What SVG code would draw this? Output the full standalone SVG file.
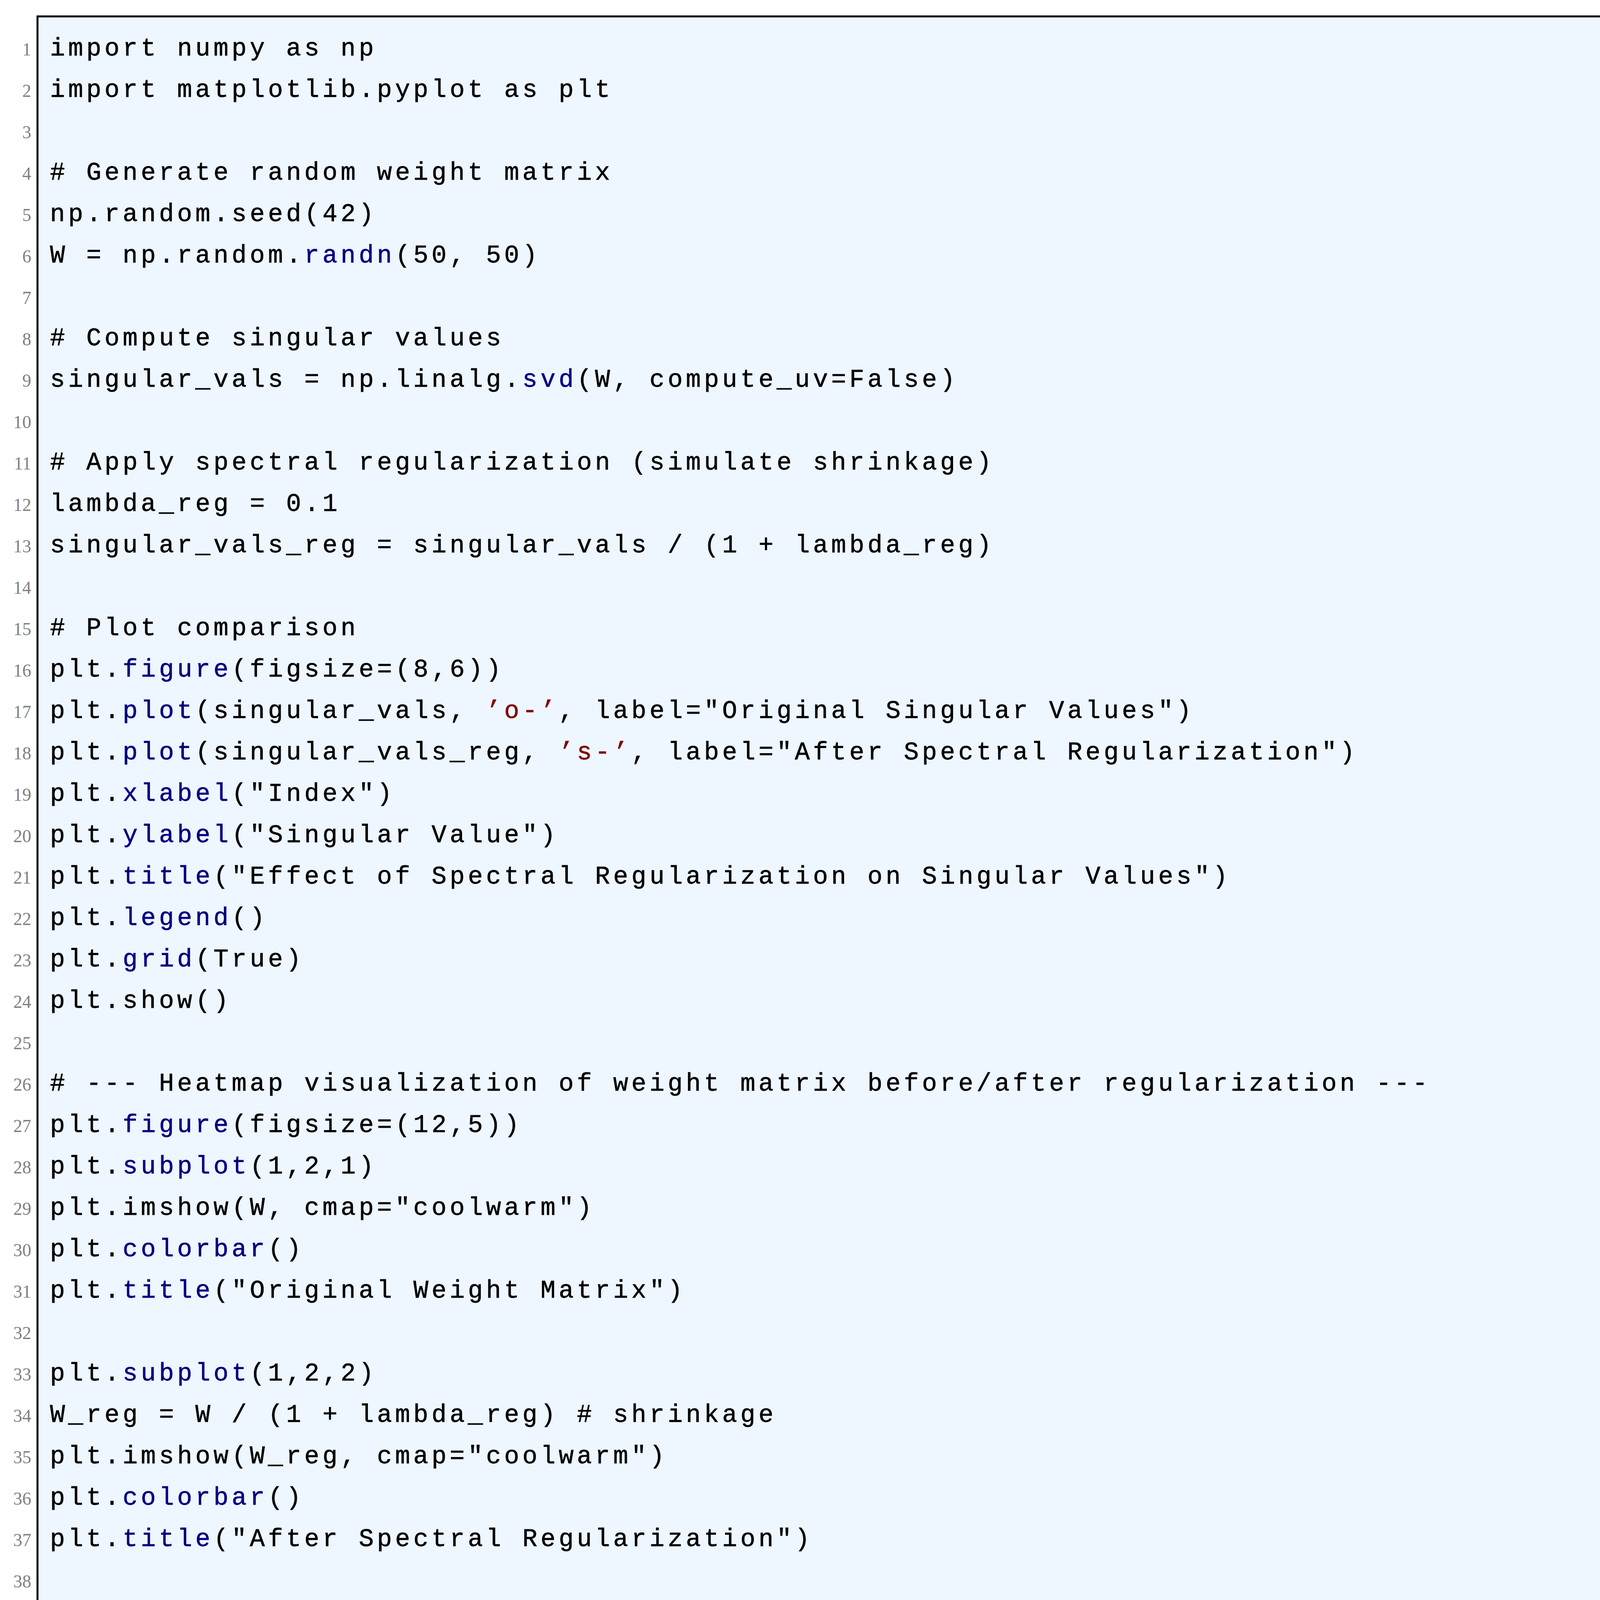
<svg xmlns="http://www.w3.org/2000/svg" width="4371" height="4386" viewBox="0 0 4371 4386">
<style>
.c{font-family:"Liberation Mono",monospace;font-size:64px;letter-spacing:8.1px;fill:#000;stroke:#000;stroke-width:0.8px}
.n{font-family:"Liberation Serif",serif;font-size:46px;fill:#808080;text-anchor:end}
.k{fill:#000080;stroke:#000080}
.s{fill:#800000;stroke:#800000}
</style>
<rect id="frame" x="96" y="42" width="4232" height="4310" fill="#EEF6FF" stroke="#000" stroke-width="5"/>
<g id="linenumbers">
<text class="n" x="80" y="142">1</text><text class="n" x="80" y="248">2</text><text class="n" x="80" y="354">3</text><text class="n" x="80" y="460">4</text><text class="n" x="80" y="566">5</text><text class="n" x="80" y="672">6</text><text class="n" x="80" y="778">7</text><text class="n" x="80" y="884">8</text><text class="n" x="80" y="990">9</text><text class="n" x="80" y="1096">10</text>
<text class="n" x="80" y="1202">11</text><text class="n" x="80" y="1308">12</text><text class="n" x="80" y="1414">13</text><text class="n" x="80" y="1520">14</text><text class="n" x="80" y="1626">15</text><text class="n" x="80" y="1732">16</text><text class="n" x="80" y="1838">17</text><text class="n" x="80" y="1944">18</text><text class="n" x="80" y="2050">19</text><text class="n" x="80" y="2156">20</text>
<text class="n" x="80" y="2262">21</text><text class="n" x="80" y="2368">22</text><text class="n" x="80" y="2474">23</text><text class="n" x="80" y="2580">24</text><text class="n" x="80" y="2686">25</text><text class="n" x="80" y="2792">26</text><text class="n" x="80" y="2898">27</text><text class="n" x="80" y="3004">28</text><text class="n" x="80" y="3110">29</text><text class="n" x="80" y="3216">30</text>
<text class="n" x="80" y="3322">31</text><text class="n" x="80" y="3428">32</text><text class="n" x="80" y="3534">33</text><text class="n" x="80" y="3640">34</text><text class="n" x="80" y="3746">35</text><text class="n" x="80" y="3852">36</text><text class="n" x="80" y="3958">37</text><text class="n" x="80" y="4064">38</text><text class="n" x="80" y="4170">39</text><text class="n" x="80" y="4276">40</text>
</g>
<g id="code" xml:space="preserve">
<text class="c" x="128" y="142">import numpy as np</text>
<text class="c" x="128" y="248">import matplotlib.pyplot as plt</text>
<text class="c" x="128" y="460"># Generate random weight matrix</text>
<text class="c" x="128" y="566">np.random.seed(42)</text>
<text class="c" x="128" y="672">W = np.random.<tspan class="k">randn</tspan>(50, 50)</text>
<text class="c" x="128" y="884"># Compute singular values</text>
<text class="c" x="128" y="990">singular_vals = np.linalg.<tspan class="k">svd</tspan>(W, compute_uv=False)</text>
<text class="c" x="128" y="1202"># Apply spectral regularization (simulate shrinkage)</text>
<text class="c" x="128" y="1308">lambda_reg = 0.1</text>
<text class="c" x="128" y="1414">singular_vals_reg = singular_vals / (1 + lambda_reg)</text>
<text class="c" x="128" y="1626"># Plot comparison</text>
<text class="c" x="128" y="1732">plt.<tspan class="k">figure</tspan>(figsize=(8,6))</text>
<text class="c" x="128" y="1838">plt.<tspan class="k">plot</tspan>(singular_vals, <tspan class="s">’o-’</tspan>, label="Original Singular Values")</text>
<text class="c" x="128" y="1944">plt.<tspan class="k">plot</tspan>(singular_vals_reg, <tspan class="s">’s-’</tspan>, label="After Spectral Regularization")</text>
<text class="c" x="128" y="2050">plt.<tspan class="k">xlabel</tspan>("Index")</text>
<text class="c" x="128" y="2156">plt.<tspan class="k">ylabel</tspan>("Singular Value")</text>
<text class="c" x="128" y="2262">plt.<tspan class="k">title</tspan>("Effect of Spectral Regularization on Singular Values")</text>
<text class="c" x="128" y="2368">plt.<tspan class="k">legend</tspan>()</text>
<text class="c" x="128" y="2474">plt.<tspan class="k">grid</tspan>(True)</text>
<text class="c" x="128" y="2580">plt.show()</text>
<text class="c" x="128" y="2792"># --- Heatmap visualization of weight matrix before/after regularization ---</text>
<text class="c" x="128" y="2898">plt.<tspan class="k">figure</tspan>(figsize=(12,5))</text>
<text class="c" x="128" y="3004">plt.<tspan class="k">subplot</tspan>(1,2,1)</text>
<text class="c" x="128" y="3110">plt.imshow(W, cmap="coolwarm")</text>
<text class="c" x="128" y="3216">plt.<tspan class="k">colorbar</tspan>()</text>
<text class="c" x="128" y="3322">plt.<tspan class="k">title</tspan>("Original Weight Matrix")</text>
<text class="c" x="128" y="3534">plt.<tspan class="k">subplot</tspan>(1,2,2)</text>
<text class="c" x="128" y="3640">W_reg = W / (1 + lambda_reg)  # shrinkage</text>
<text class="c" x="128" y="3746">plt.imshow(W_reg, cmap="coolwarm")</text>
<text class="c" x="128" y="3852">plt.<tspan class="k">colorbar</tspan>()</text>
<text class="c" x="128" y="3958">plt.<tspan class="k">title</tspan>("After Spectral Regularization")</text>
<text class="c" x="128" y="4170">plt.tight_layout()</text>
<text class="c" x="128" y="4276">plt.show()</text>
</g>
</svg>
